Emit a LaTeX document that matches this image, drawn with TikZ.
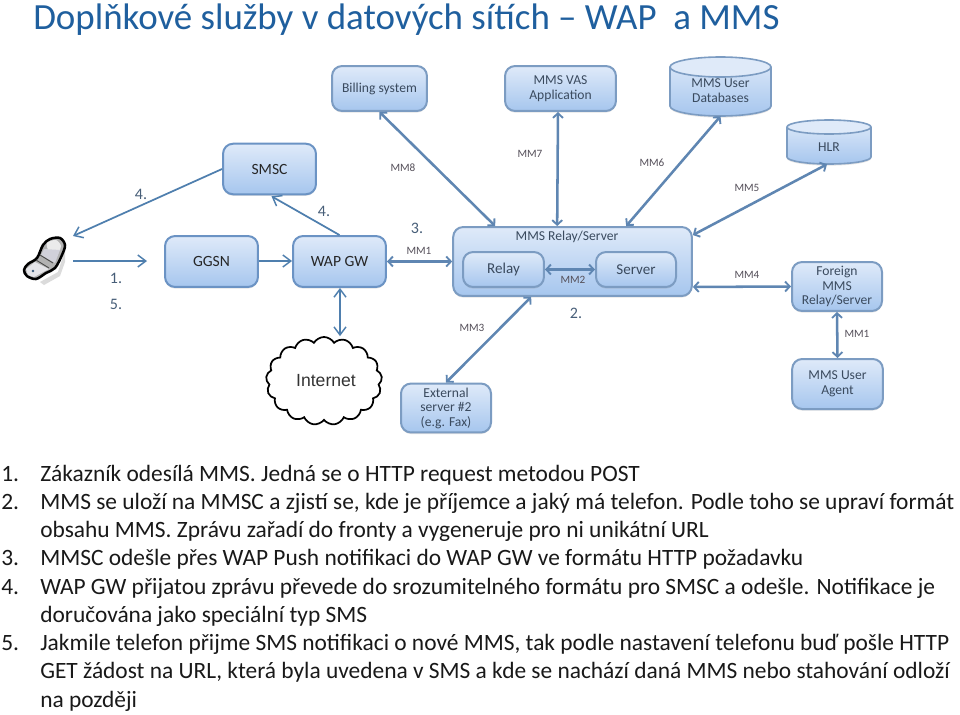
\documentclass[tikz,border=0pt]{standalone}
\usepackage{fontspec}
\setmainfont{Carlito}
\newfontfamily\inetfont{Liberation Sans}
\usetikzlibrary{arrows.meta,shadows,shapes.symbols,calc}
\definecolor{titleblue}{HTML}{1F5F9E}
\definecolor{edgeblue}{HTML}{6B93C4}
\definecolor{imgedge}{HTML}{7C9CC2}
\definecolor{thinblue}{HTML}{4F7FAE}
\definecolor{thickblue}{HTML}{5F86B2}
\definecolor{topfill}{HTML}{DFEAF9}
\definecolor{botfill}{HTML}{A6C6EE}
\definecolor{numcol}{HTML}{475E78}
\definecolor{mmcol}{HTML}{55505A}
\definecolor{imgtext}{HTML}{3A4A5E}
\tikzset{
  bx/.style={line width=1.5pt,rounded corners=7.5pt,top color=topfill,bottom color=botfill,
    drop shadow={opacity=.22,shadow xshift=0pt,shadow yshift=-1.2pt},inner sep=0pt,align=center},
  slidebox/.style={bx,draw=edgeblue,font=\fontsize{11.7}{14}\selectfont,text=black!85},
  imgbox/.style={bx,draw=imgedge,font=\fontsize{10.2}{10.9}\selectfont,text=imgtext},
  hollow/.style={inner sep=0pt,align=center,font=\fontsize{10.2}{10.9}\selectfont,text=imgtext},
  thin link/.style={draw=thinblue,line width=1.3pt,-{Straight Barb[length=6pt,width=9pt,line width=1.1pt]}},
  thin both/.style={draw=thinblue,line width=1.3pt,{Straight Barb[length=6pt,width=9pt,line width=1.1pt]}-{Straight Barb[length=6pt,width=9pt,line width=1.1pt]}},
  thick both/.style={draw=thickblue,line width=1.9pt,{Straight Barb[length=3.5pt,width=7.5pt,line width=1.4pt]}-{Straight Barb[length=3.5pt,width=7.5pt,line width=1.4pt]}},
  numlab/.style={text=numcol,font=\fontsize{12}{14}\selectfont,inner sep=0pt},
  mmlab/.style={text=mmcol,font=\fontsize{8.4}{10}\selectfont,inner sep=0pt},
  bodyline/.style={anchor=base west,inner sep=0pt,text=black!90,font=\fontsize{17.55}{21}\selectfont},
}
\begin{document}
\begin{tikzpicture}[x=0.75pt,y=-0.75pt]
\useasboundingbox (0,0) rectangle (960,714);
\fill[white] (0,0) rectangle (960,714);

% title
\node[anchor=base west,inner sep=0pt,text=titleblue,font=\fontsize{27.7}{32}\selectfont] (title) at (33,29) {Doplňkové služby v datových sítích – WAP\ \ a MMS};

% left boxes
\node[slidebox,minimum width=69.7pt,minimum height=37.9pt] (smsc) at (269.5,169) {SMSC};
\node[slidebox,minimum width=69.7pt,minimum height=38.2pt] (ggsn) at (211.5,261.5) {GGSN};
\node[slidebox,minimum width=69.7pt,minimum height=38.2pt] (wap) at (339.5,261.5) {WAP GW};

% MMS boxes
\node[imgbox,minimum width=71.2pt,minimum height=33.7pt] (bill) at (379.5,88.5) {Billing system};
\node[imgbox,minimum width=83.2pt,minimum height=33.7pt] (vas) at (560.5,88.5) {MMS VAS\\Application};
\node[imgbox,minimum width=179pt,minimum height=51.7pt] (mms) at (572.5,261.5) {};
\node[text=imgtext,inner sep=0pt,font=\fontsize{10.2}{12}\selectfont] (mmst) at (567,237) {MMS Relay/Server};
\node[imgbox,font=\fontsize{11.3}{13}\selectfont,minimum width=60.7pt,minimum height=26.2pt] (relay) at (503.5,269.5) {Relay};
\node[imgbox,font=\fontsize{11.3}{13}\selectfont,minimum width=60pt,minimum height=26.2pt] (server) at (636,269.5) {Server};
\node[imgbox,minimum width=67.5pt,minimum height=36.7pt] (ext) at (446,408) {External\\server \#2\\(e.g. Fax)};
\node[imgbox,minimum width=67.5pt,minimum height=36.7pt] (foreign) at (837,286.5) {Foreign\\MMS\\Relay/Server};
\node[imgbox,minimum width=68pt,minimum height=37.5pt] (agent) at (837.5,384) {MMS User\\Agent};

% database cylinders
\path[top color=topfill,bottom color=botfill,drop shadow={opacity=.22,shadow xshift=0pt,shadow yshift=-1.2pt}]
  (670,67) -- (670,106) arc[start angle=180,end angle=0,x radius=50.5,y radius=10] -- (771,67)
  arc[start angle=0,end angle=-180,x radius=50.5,y radius=10] -- cycle;
\path[fill=topfill] (720.5,67) ellipse[x radius=50.5,y radius=10];
\draw[draw=imgedge,line width=1.2pt] (670,67) -- (670,106) arc[start angle=180,end angle=0,x radius=50.5,y radius=10] -- (771,67);
\draw[draw=imgedge,line width=1.2pt] (720.5,67) ellipse[x radius=50.5,y radius=10];
\node[hollow,minimum width=75.7pt,minimum height=44.2pt] (db) at (720.5,86.5) {\\[2pt]MMS User\\Databases};

\path[top color=topfill,bottom color=botfill,drop shadow={opacity=.22,shadow xshift=0pt,shadow yshift=-1.2pt}]
  (787,127) -- (787,157) arc[start angle=180,end angle=0,x radius=42,y radius=7] -- (871,127)
  arc[start angle=0,end angle=-180,x radius=42,y radius=7] -- cycle;
\path[fill=topfill] (829,127) ellipse[x radius=42,y radius=7];
\draw[draw=imgedge,line width=1.2pt] (787,127) -- (787,157) arc[start angle=180,end angle=0,x radius=42,y radius=7] -- (871,127);
\draw[draw=imgedge,line width=1.2pt] (829,127) ellipse[x radius=42,y radius=7];
\node[hollow,minimum width=63pt,minimum height=33pt] (hlr) at (829,142) {\\[3pt]HLR};

% cloud
\node[cloud,cloud puffs=17,cloud puff arc=120,aspect=1.3,draw=black,fill=white,line width=1.3pt,
  minimum width=87pt,minimum height=66pt,inner sep=0pt,text=black!80,
  font={\inetfont\fontsize{13.2}{15}\selectfont}] (inet) at (324,381) {\hspace{3pt}Internet};

% phone
\coordinate (ph1) at (73,236);
\coordinate (ph2) at (73,261);
\coordinate (ph3) at (147,261);
\fill[black!14] (40,282) -- (58,272) -- (65,250) -- (65,262) -- (60,276) -- (44,285) -- cycle;
\draw[fill=black!30,line width=1.9pt,line join=round]
  plot[smooth cycle,tension=.55] coordinates {(37,258) (43,245) (50,239) (60,238) (65,245) (62,255) (55,268) (46,273) (36,279) (27,276) (24,270) (28,264)};
\fill[fill=black!8] plot[smooth cycle,tension=.5] coordinates {(47,243) (56,240) (61,246) (58,252) (49,251)};
\fill[fill=blue!20!black!18] (44,249) -- (60,250) -- (55,263) -- (41,255) -- cycle;
\fill[fill=blue!15!black!10] (35,262) -- (49,269) -- (45,271) -- (34,277) -- (28,275) -- (26,269) -- cycle;
\draw[black!70,line width=.7pt] (40,255) -- (53,263) (36,260) -- (49,268);
\fill[fill=thinblue!70!black] (33,271) circle[radius=1.3];

% thin connectors
\draw[thin link] (smsc.west) -- (ph1);
\draw[thin link] (wap.north) -- ($(smsc.south)+(2,1)$);
\draw[thin link] (ph2) -- (ph3);
\draw[thin link] ($(ggsn.east)+(0,-.5)$) -- ($(wap.west)+(0,-.5)$);
\draw[thin both] ($(wap.south)+(.5,0)$) -- ($(wap.south |- inet.north)+(.5,0)$);

% thick connectors
\draw[thick both] (wap.east) -- (mms.west);
\draw[thick both] (bill.south) -- ($(mms.north west)+(43,0)$);
\draw[thick both] ($(vas.south)+(-2.5,0)$) -- ($(mms.north west)+(105,0)$);
\draw[thick both] (db.south) -- ($(mms.north west)+(174,0)$);
\draw[thick both] ($(hlr.south)+(-2,0)$) -- ($(mms.north east)+(0,9)$);
\draw[thick both] ($(mms.south east)+(0,-10)$) -- (foreign.west);
\draw[thick both] (foreign.south) -- (agent.north);
\draw[thick both] (ext.north) -- ($(mms.south west)+(79,0)$);
\draw[thick both] (relay.east) -- (server.west);

% step numbers
\node[numlab] (n4a) at (141,194) {4.};
\node[numlab] (n4b) at (324,211) {4.};
\node[numlab] (n3) at (417,228) {3.};
\node[numlab] (n1) at (116,278) {1.};
\node[numlab] (n5) at (116,304) {5.};
\node[numlab] (n2) at (576,313) {2.};

% interface labels
\node[mmlab] (m8) at (403,168) {MM8};
\node[mmlab] (m7) at (530,154) {MM7};
\node[mmlab] (m6) at (652,163) {MM6};
\node[mmlab] (m5) at (747,188) {MM5};
\node[mmlab] (m1) at (419,251) {MM1};
\node[mmlab] (m2) at (573,280) {MM2};
\node[mmlab] (m3) at (472,328) {MM3};
\node[mmlab] (m4) at (747,275) {MM4};
\node[mmlab] (m1b) at (857,334) {MM1};

% body text
\node[bodyline] (l1n) at (1,481) {1.};
\node[bodyline] (l1) at (40,481) {Zákazník odesílá MMS. Jedná se o HTTP request metodou POST};
\node[bodyline] (l2n) at (1,509) {2.};
\node[bodyline] (l2) at (40,509) {MMS se uloží na MMSC a zjistí se, kde je příjemce a jaký má telefon. Podle toho se upraví formát};
\node[bodyline] (l2b) at (40,537) {obsahu MMS. Zprávu zařadí do fronty a vygeneruje pro ni unikátní URL};
\node[bodyline] (l3n) at (1,565) {3.};
\node[bodyline] (l3) at (40,565) {MMSC odešle přes WAP Push notifikaci do WAP GW ve formátu HTTP požadavku};
\node[bodyline] (l4n) at (1,594) {4.};
\node[bodyline] (l4) at (40,594) {WAP GW přijatou zprávu převede do srozumitelného formátu pro SMSC a odešle. Notifikace je};
\node[bodyline] (l4b) at (40,622) {doručována jako speciální typ SMS};
\node[bodyline] (l5n) at (1,650) {5.};
\node[bodyline] (l5) at (40,650) {Jakmile telefon přijme SMS notifikaci o nové MMS, tak podle nastavení telefonu buď pošle HTTP};
\node[bodyline] (l5b) at (40,678) {GET žádost na URL, která byla uvedena v SMS a kde se nachází daná MMS nebo stahování odloží};
\node[bodyline] (l5c) at (40,707) {na později};
\end{tikzpicture}
\end{document}
